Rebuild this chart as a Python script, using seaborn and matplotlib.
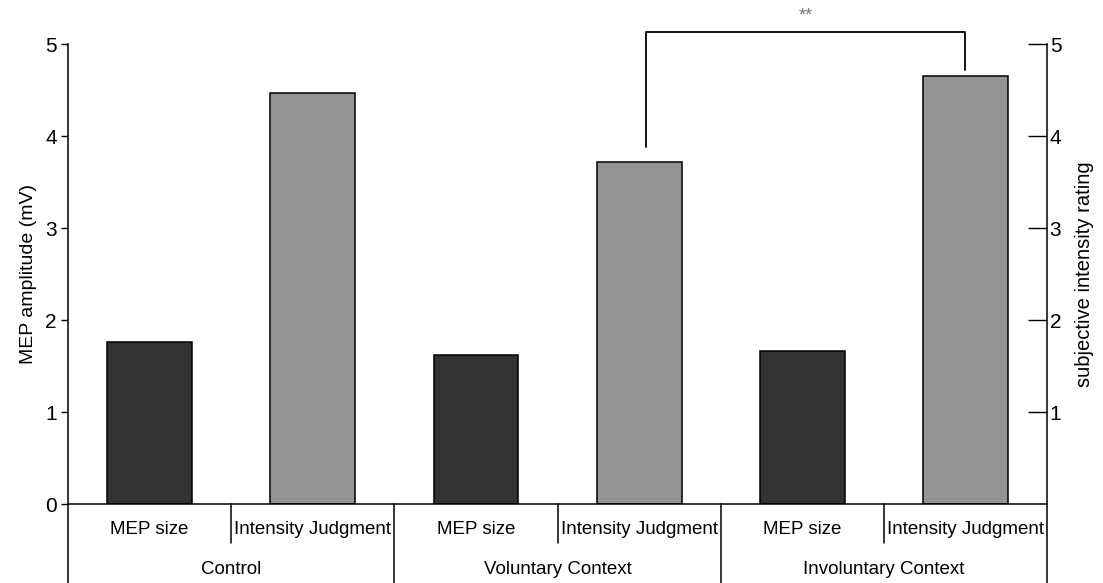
import seaborn as sns
import matplotlib.pyplot as plt
import matplotlib.transforms as mtransforms
import pandas as pd

sns.set_style("white")
plt.rcParams['font.family'] = ['Liberation Sans', 'DejaVu Sans']
plt.rcParams['text.color'] = 'black'
plt.rcParams['axes.labelcolor'] = 'black'
plt.rcParams['ytick.color'] = 'black'

# values
groups = ["Control", "Voluntary Context", "Involuntary Context"]
measures = ["MEP size", "Intensity Judgment"]
mep_size = [1.76, 1.62, 1.66]          # MEP amplitude (mV), left axis
intensity = [4.47, 3.72, 4.65]         # subjective intensity rating, right axis
y_ticks = [0, 1, 2, 3, 4, 5]
right_ticks = [1, 2, 3, 4, 5]
sig_label = "**"

rows = []
for g, m, s in zip(groups, mep_size, intensity):
    rows.append({"slot": g + " / " + measures[0], "group": g, "measure": measures[0], "value": m})
    rows.append({"slot": g + " / " + measures[1], "group": g, "measure": measures[1], "value": s})
df = pd.DataFrame(rows)

fig = plt.figure(figsize=(11.03, 5.83), dpi=100)
ax = fig.add_axes([0.0617, 0.1355, 0.8875, 0.789])

sns.barplot(data=df, x="slot", y="value", hue="measure", dodge=False, width=0.52,
            palette={measures[0]: "#333333", measures[1]: "#949494"},
            edgecolor="black", linewidth=1.1, legend=False, ax=ax)

n = len(df)
ax.set_xlim(-0.5, n - 0.5)
ax.set_ylim(0, 5)
ax.set_yticks(y_ticks)
ax.set_xticks([])
ax.set_xlabel("")
ax.set_ylabel("MEP amplitude (mV)", fontsize=14, labelpad=6)
ax.tick_params(axis="y", direction="out", length=5, width=1, labelsize=15, pad=3, left=True)
for side in ["top", "right"]:
    ax.spines[side].set_visible(False)
for side in ["left", "bottom"]:
    ax.spines[side].set_color("black")
    ax.spines[side].set_linewidth(1.1)

ax2 = ax.twinx()
ax2.set_ylim(0, 5)
ax2.set_yticks(right_ticks)
ax2.tick_params(axis="y", direction="in", length=14, width=1, labelsize=15, pad=2, right=True)
ax2.set_ylabel("subjective intensity rating", fontsize=14.5, labelpad=10)
for side in ["top", "left", "bottom"]:
    ax2.spines[side].set_visible(False)
ax2.spines["right"].set_color("black")
ax2.spines["right"].set_linewidth(1.1)

# category table under the axis
trans = mtransforms.blended_transform_factory(ax.transData, ax.transAxes)
y_bottom = -0.172
y_short = -0.085
for i in range(n + 1):
    x = i - 0.5
    y_end = y_short if i % 2 == 1 else y_bottom
    ax.plot([x, x], [0, y_end], color="black", lw=1.1, transform=trans, clip_on=False)
for i, row in df.iterrows():
    ax.text(i, -0.0565, row["measure"], transform=trans, ha="center", va="center", fontsize=13.5)
for j, g in enumerate(groups):
    ax.text(2 * j + 0.5, -0.143, g, transform=trans, ha="center", va="center", fontsize=13.5)

# significance bracket between the two intensity judgments
x_left, x_right = 3.04, 5.0
ax.plot([x_left, x_left, x_right, x_right], [3.88, 5.13, 5.13, 4.72],
        color="black", lw=1.3, clip_on=False)
ax.text((x_left + x_right) / 2, 5.30, sig_label, ha="center", va="center",
        fontsize=13, color="#777777")

fig.savefig("out.png", dpi=100)
